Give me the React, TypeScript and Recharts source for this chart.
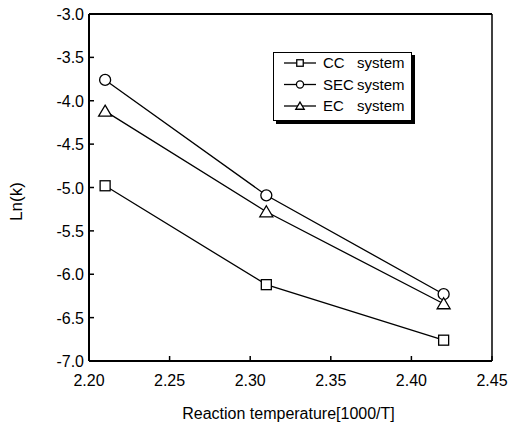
import {
  LineChart,
  Line,
  XAxis,
  YAxis,
  Legend,
  ReferenceLine,
} from "recharts";

const temps = [2.21, 2.31, 2.42];
const ccSystem = [-4.98, -6.12, -6.76];
const secSystem = [-3.76, -5.09, -6.23];
const ecSystem = [-4.12, -5.28, -6.34];

const xTicks = [2.2, 2.25, 2.3, 2.35, 2.4, 2.45];
const yTicks = [-7.0, -6.5, -6.0, -5.5, -5.0, -4.5, -4.0, -3.5, -3.0];

const seriesNames = ["CC", "SEC", "EC"];

const data = temps.map((t, i) => ({
  t,
  cc: ccSystem[i],
  sec: secSystem[i],
  ec: ecSystem[i],
}));

const font = "Arial, 'Liberation Sans', sans-serif";

function Marker({ kind, cx, cy, s = 1 }: { kind: string; cx: number; cy: number; s?: number }) {
  if (kind === "square") {
    return (
      <rect x={cx - 5 * s} y={cy - 5 * s} width={10 * s} height={10 * s} fill="#fff" stroke="#000" strokeWidth={1.3} />
    );
  }
  if (kind === "circle") {
    return <circle cx={cx} cy={cy} r={5.5 * s} fill="#fff" stroke="#000" strokeWidth={1.3} />;
  }
  return (
    <polygon
      points={`${cx},${cy - 6 * s} ${cx + 6.5 * s},${cy + 5 * s} ${cx - 6.5 * s},${cy + 5 * s}`}
      fill="#fff"
      stroke="#000"
      strokeWidth={1.3}
    />
  );
}

const dotFor = (kind: string) => (props: any) =>
  <Marker key={`${kind}-${props.index}`} kind={kind} cx={props.cx} cy={props.cy} />;

function XTick(props: any) {
  const { x, y, payload } = props;
  return (
    <g>
      <line x1={x} y1={y} x2={x} y2={y - 5} stroke="#000" strokeWidth={1.5} />
      <text x={x} y={y + 25} textAnchor="middle" fontSize={16} fontFamily={font} fill="#000">
        {payload.value.toFixed(2)}
      </text>
    </g>
  );
}

function YTick(props: any) {
  const { x, y, payload } = props;
  return (
    <g>
      <line x1={x} y1={y} x2={x + 5} y2={y} stroke="#000" strokeWidth={1.5} />
      <text x={x - 5} y={y + 6} textAnchor="end" fontSize={16} fontFamily={font} fill="#000">
        {payload.value.toFixed(1)}
      </text>
    </g>
  );
}

function LegendBox() {
  const kinds = ["square", "circle", "triangle"];
  return (
    <div
      style={{
        position: "relative",
        width: 139,
        height: 69,
        boxSizing: "border-box",
        border: "1px solid #000",
        boxShadow: "3px 3px 0 #000",
        background: "#fff",
      }}
    >
      <svg width={139} height={69} style={{ position: "absolute", left: -1, top: -1 }}>
        {kinds.map((k, i) => {
          const cy = 11 + i * 21.5;
          return (
            <g key={k}>
              <line x1={11} y1={cy} x2={43} y2={cy} stroke="#000" strokeWidth={1.3} />
              <Marker kind={k} cx={27} cy={cy} s={0.65} />
              <text x={50} y={cy + 5} fontSize={15} fontFamily={font}>
                {seriesNames[i]}
              </text>
              <text x={84} y={cy + 5} fontSize={15} fontFamily={font}>
                system
              </text>
            </g>
          );
        })}
      </svg>
    </div>
  );
}

function YLabel(props: any) {
  const { viewBox } = props;
  const x = 22;
  const y = viewBox.y + viewBox.height / 2 + 14;
  return (
    <text
      x={x}
      y={y}
      transform={`rotate(-90 ${x} ${y})`}
      textAnchor="middle"
      fontSize={17}
      fontFamily={font}
      fill="#000"
    >
      Ln(k)
    </text>
  );
}

function XLabel(props: any) {
  const { viewBox } = props;
  const x = viewBox.x + viewBox.width / 2 - 2;
  return (
    <text x={x} y={419} textAnchor="middle" fontSize={16} fontFamily={font} fill="#000">
      Reaction temperature[1000/T]
    </text>
  );
}

export default function App() {
  return (
    <div style={{ position: "absolute", left: 0, top: 0, width: 515, height: 429, background: "#fff" }}>
      <LineChart
        width={515}
        height={429}
        data={data}
        margin={{ top: 14, right: 23, bottom: 8, left: 0 }}
      >
        <XAxis
          dataKey="t"
          type="number"
          domain={[2.2, 2.45]}
          ticks={xTicks}
          tickSize={0}
          tickMargin={0}
          tick={<XTick />}
          axisLine={{ stroke: "#000", strokeWidth: 2 }}
          height={60}
          allowDataOverflow
          label={<XLabel />}
        />
        <YAxis
          type="number"
          domain={[-7, -3]}
          ticks={yTicks}
          tickSize={0}
          tickMargin={0}
          tick={<YTick />}
          width={89}
          axisLine={{ stroke: "#000", strokeWidth: 2 }}
          label={<YLabel />}
        />
        <ReferenceLine y={-3} stroke="#000" strokeWidth={2} />
        <ReferenceLine x={2.45} stroke="#000" strokeWidth={1.5} />
        <Legend
          layout="horizontal"
          verticalAlign="middle"
          align="center"
          wrapperStyle={{ position: "absolute", left: 273, top: 52, width: 139, height: 69 }}
          content={() => <LegendBox />}
        />
        <Line
          dataKey="cc"
          stroke="#000"
          strokeWidth={1.3}
          dot={dotFor("square")}
          isAnimationActive={false}
        />
        <Line
          dataKey="sec"
          stroke="#000"
          strokeWidth={1.3}
          dot={dotFor("circle")}
          isAnimationActive={false}
        />
        <Line
          dataKey="ec"
          stroke="#000"
          strokeWidth={1.3}
          dot={dotFor("triangle")}
          isAnimationActive={false}
        />
      </LineChart>
    </div>
  );
}
